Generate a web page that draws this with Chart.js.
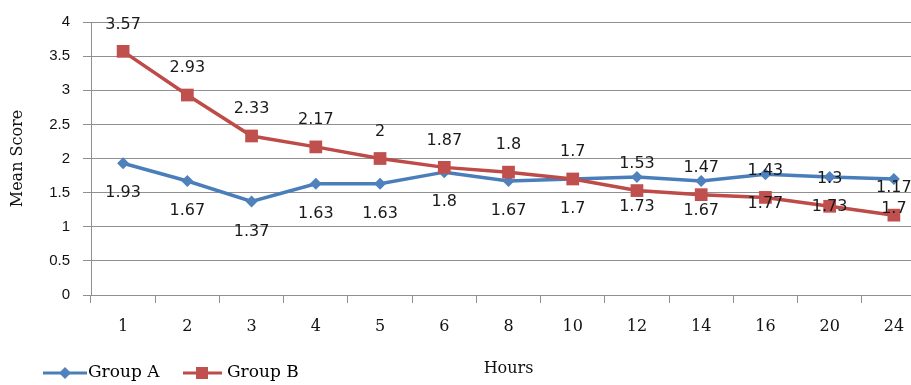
<!DOCTYPE html>
<html>
<head>
<meta charset="utf-8">
<script src="https://cdn.jsdelivr.net/npm/chart.js@4.4.1/dist/chart.umd.min.js"></script>
<style>
  html, body { margin: 0; padding: 0; background: #fff; overflow: hidden; }
  #wrap { width: 935px; height: 385px; }
</style>
</head>
<body>
<div id="wrap"><canvas id="c" width="935" height="385"></canvas></div>
<script>
// Mean score per sampling hour for the two groups
const hours = ['1', '2', '3', '4', '5', '6', '8', '10', '12', '14', '16', '20', '24'];
const groupA = [1.93, 1.67, 1.37, 1.63, 1.63, 1.8, 1.67, 1.7, 1.73, 1.67, 1.77, 1.73, 1.7];
const groupB = [3.57, 2.93, 2.33, 2.17, 2, 1.87, 1.8, 1.7, 1.53, 1.47, 1.43, 1.3, 1.17];
const yTicks = [0, 0.5, 1, 1.5, 2, 2.5, 3, 3.5, 4];

const BLUE = '#4A7EBB';
const RED = '#BE4B48';
const SERIF = '"DejaVu Serif", serif';
const SANS = '"Liberation Sans", Arial, sans-serif';

// Value labels: Group B above its points, Group A below
const valueLabels = {
  id: 'valueLabels',
  afterDatasetsDraw(chart) {
    const ctx = chart.ctx;
    ctx.save();
    ctx.font = '16px "DejaVu Sans", sans-serif';
    ctx.fillStyle = '#1a1a1a';
    ctx.textAlign = 'center';
    ctx.textBaseline = 'middle';
    chart.data.datasets.forEach((ds, i) => {
      const meta = chart.getDatasetMeta(i);
      const dy = ds.labelSide === 'above' ? -27 : 30;
      meta.data.forEach((pt, j) => {
        ctx.fillText(String(ds.data[j]), pt.x, pt.y + dy);
      });
    });
    ctx.restore();
  }
};

// Legend drawn as line + marker samples in the bottom-left corner
const lineLegend = {
  id: 'lineLegend',
  afterDraw(chart) {
    const ctx = chart.ctx;
    const y = 373;
    ctx.save();
    ctx.lineWidth = 3;
    // Group A
    ctx.strokeStyle = BLUE;
    ctx.beginPath(); ctx.moveTo(43, y); ctx.lineTo(87, y); ctx.stroke();
    ctx.fillStyle = '#4F81BD';
    ctx.beginPath();
    ctx.moveTo(65, y - 6); ctx.lineTo(71, y); ctx.lineTo(65, y + 6); ctx.lineTo(59, y);
    ctx.closePath(); ctx.fill();
    // Group B
    ctx.strokeStyle = RED;
    ctx.beginPath(); ctx.moveTo(183, y); ctx.lineTo(222, y); ctx.stroke();
    ctx.fillStyle = '#C0504D';
    ctx.fillRect(196, y - 6, 12, 12);
    ctx.fillStyle = '#000';
    ctx.font = '17px ' + SERIF;
    ctx.textBaseline = 'middle';
    ctx.textAlign = 'left';
    ctx.fillText(chart.data.datasets[0].label, 88, y);
    ctx.fillText(chart.data.datasets[1].label, 227, y);
    ctx.restore();
  }
};

new Chart(document.getElementById('c'), {
  type: 'line',
  data: {
    labels: hours,
    datasets: [
      {
        label: 'Group A',
        data: groupA,
        labelSide: 'below',
        borderColor: BLUE,
        backgroundColor: '#4F81BD',
        borderWidth: 3.5,
        pointStyle: 'rectRot',
        pointRadius: 6,
        pointBorderWidth: 0,
        tension: 0,
        order: 2
      },
      {
        label: 'Group B',
        data: groupB,
        labelSide: 'above',
        borderColor: RED,
        backgroundColor: '#C0504D',
        borderWidth: 3.5,
        pointStyle: 'rect',
        pointRadius: 9,
        pointBorderWidth: 0,
        tension: 0,
        order: 1
      }
    ]
  },
  options: {
    responsive: false,
    animation: false,
    layout: { padding: { top: 19, left: 0, right: 6, bottom: 0 } },
    plugins: {
      legend: { display: false },
      tooltip: { enabled: false }
    },
    scales: {
      x: {
        offset: true,
        grid: {
          offset: true,
          drawOnChartArea: false,
          drawTicks: true,
          tickLength: 8,
          color: '#8f8f8f'
        },
        border: { color: '#8f8f8f', width: 1 },
        ticks: {
          color: '#111',
          font: { family: SERIF, size: 16 },
          padding: 14,
          maxRotation: 0
        },
        title: {
          display: true,
          text: 'Hours',
          color: '#111',
          font: { family: SERIF, size: 16 },
          padding: { top: 0, bottom: 7 }
        },
        afterFit(scale) { scale.height = 90; }
      },
      y: {
        min: 0,
        max: 4,
        afterBuildTicks(scale) { scale.ticks = yTicks.map(v => ({ value: v })); },
        grid: {
          color: '#8f8f8f',
          lineWidth: 1,
          tickLength: 8,
          drawTicks: true
        },
        border: { color: '#8f8f8f', width: 1 },
        ticks: {
          color: '#111',
          font: { family: SANS, size: 15 },
          padding: 13,
          callback: v => String(v)
        },
        title: {
          display: true,
          text: 'Mean Score',
          color: '#111',
          font: { family: SERIF, size: 16 },
          padding: { top: 8, bottom: 0 }
        },
        afterFit(scale) { scale.width = 91; }
      }
    }
  },
  plugins: [valueLabels, lineLegend]
});
</script>
</body>
</html>
